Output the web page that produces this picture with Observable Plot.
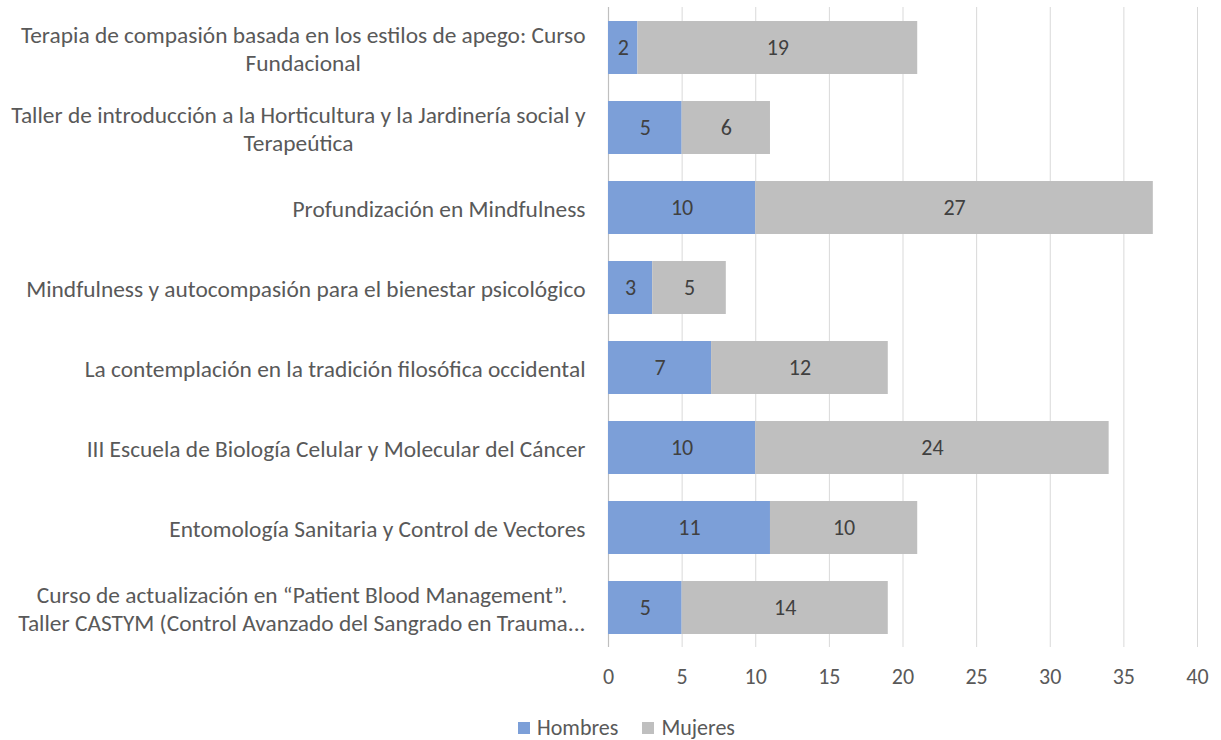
<!DOCTYPE html>
<html>
<head>
<meta charset="utf-8">
<script src="https://cdn.jsdelivr.net/npm/d3@7"></script>
<script src="https://cdn.jsdelivr.net/npm/@observablehq/plot@0.6"></script>
<style>
  html, body { margin: 0; padding: 0; background: #fff; }
  #chart { position: relative; width: 1221px; height: 740px; font-family: Carlito, Lato, sans-serif; }
  #legend { position: absolute; top: 713px; left: 0; width: 1221px; padding-left: 32px; box-sizing: border-box; display: flex; justify-content: center; align-items: center; font-size: 22px; color: #595959; line-height: 30px; }
  .sw { display: inline-block; width: 12px; height: 12px; margin-right: 7px; }
</style>
</head>
<body>
<div id="chart"></div>
<script>
const categories = [
  "Terapia de compasión basada en los estilos de apego: Curso\nFundacional",
  "Taller de introducción a la Horticultura y la Jardinería social y\nTerapeútica",
  "Profundización en Mindfulness",
  "Mindfulness y autocompasión para el bienestar psicológico",
  "La contemplación en la tradición filosófica occidental",
  "III Escuela de Biología Celular y Molecular del Cáncer",
  "Entomología Sanitaria y Control de Vectores",
  "Curso de actualización en “Patient Blood Management”.\nTaller CASTYM (Control Avanzado del Sangrado en Trauma..."
];
const series = ["Hombres", "Mujeres"];
const hombres = [2, 5, 10, 3, 7, 10, 11, 5];
const mujeres = [19, 6, 27, 5, 12, 24, 10, 14];
const xTicks = [0, 5, 10, 15, 20, 25, 30, 35, 40];
const colors = ["#7c9fd8", "#bfbfbf"];

const rows = [];
categories.forEach((c, i) => {
  rows.push({cat: c, serie: series[0], value: hombres[i]});
  rows.push({cat: c, serie: series[1], value: mujeres[i]});
});

const chart = Plot.plot({
  width: 1221,
  height: 700,
  marginLeft: 608,
  marginRight: 24,
  marginTop: 7,
  marginBottom: 53,
  style: {fontFamily: "Carlito, Lato, sans-serif", fontSize: "23px", color: "#595959", background: "#fff"},
  x: {domain: [0, 40], ticks: xTicks},
  y: {domain: categories, paddingInner: 0.34, paddingOuter: 0.17},
  color: {domain: series, range: colors},
  marks: [
    Plot.gridX(xTicks.filter(d => d > 0), {stroke: "#d9d9d9", strokeOpacity: 1}),
    Plot.ruleX([0], {stroke: "#bfbfbf", strokeWidth: 1.2}),
    Plot.barX(rows, Plot.stackX({x: "value", y: "cat", fill: "serie", z: "serie", order: series})),
    Plot.text(rows, Plot.stackX({x: "value", y: "cat", z: "serie", text: "value", order: series, fill: "#404040", fontSize: 22})),
    Plot.axisX(xTicks, {tickSize: 0, tickPadding: 21, fontSize: 22, fill: "#595959", label: null}),
    Plot.axisY({tickSize: 0, tickPadding: 23, fontSize: 23.4, lineHeight: 1.2, fill: "#595959", label: null, textOverflow: null})
  ]
});

document.getElementById("chart").appendChild(chart);

// center multi-line tick labels under their widest line (keeps right edge aligned)
chart.querySelectorAll('[aria-label="y-axis tick label"] text').forEach(t => {
  const spans = t.querySelectorAll("tspan");
  if (spans.length > 1) {
    let maxW = 0;
    spans.forEach(s => { maxW = Math.max(maxW, s.getComputedTextLength()); });
    t.setAttribute("text-anchor", "middle");
    spans.forEach(s => s.setAttribute("x", -maxW / 2));
  }
});

const legend = document.createElement("div");
legend.id = "legend";
legend.innerHTML = series.map((s, i) =>
  `<span style="display:flex;align-items:center;margin-right:${i === 0 ? 24 : 0}px"><span class="sw" style="background:${colors[i]}"></span>${s}</span>`
).join("");
document.getElementById("chart").appendChild(legend);
</script>
</body>
</html>
